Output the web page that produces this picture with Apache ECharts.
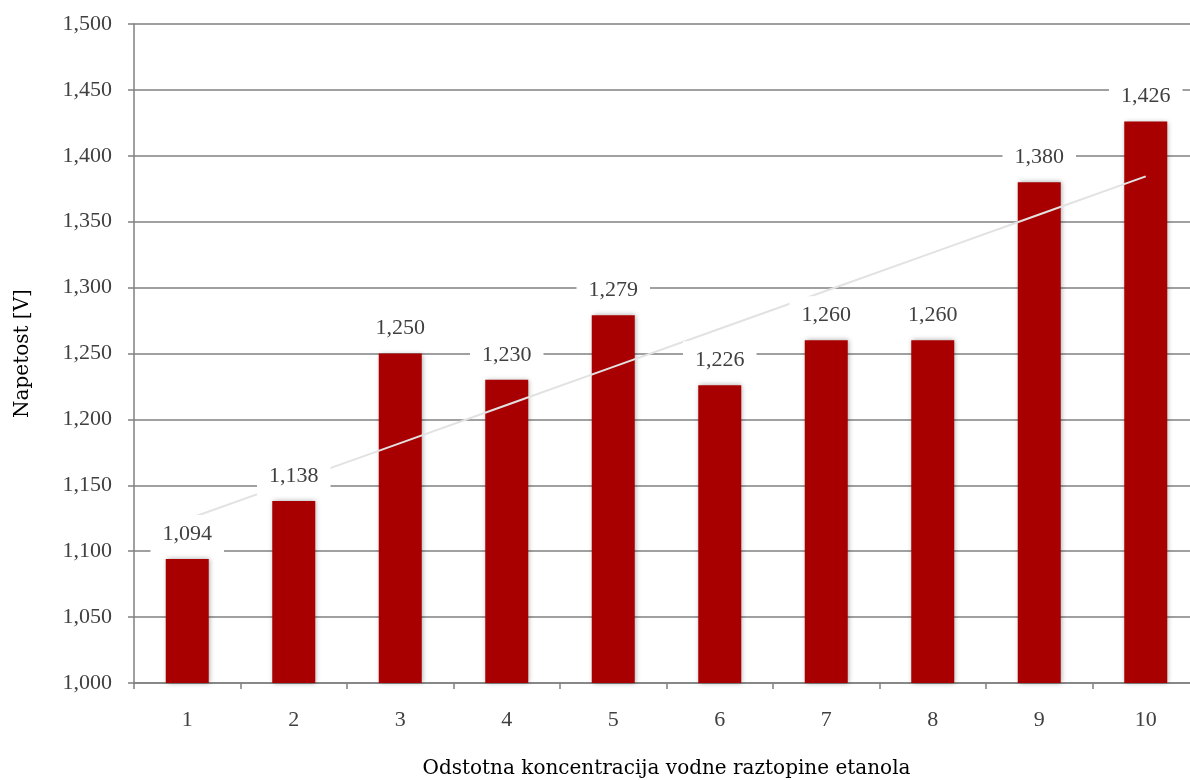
<!DOCTYPE html>
<html>
<head>
<meta charset="utf-8">
<script src="https://cdn.jsdelivr.net/npm/echarts@6/dist/echarts.min.js"></script>
<style>
  html, body { margin: 0; padding: 0; background: #fff; }
  #chart { width: 1190px; height: 780px; }
</style>
</head>
<body>
<div id="chart"></div>
<script>
// Voltage measured for each ethanol concentration step
const categories = ['1', '2', '3', '4', '5', '6', '7', '8', '9', '10'];
const voltages = [1.094, 1.138, 1.250, 1.230, 1.279, 1.226, 1.260, 1.260, 1.380, 1.426];
const yMin = 1.0;
const yMax = 1.5;
const yStep = 0.05;

// Least-squares linear trend through the measurements
function linearTrend(values) {
  const n = values.length;
  const xs = values.map((_, i) => i + 1);
  const mx = xs.reduce((a, b) => a + b, 0) / n;
  const my = values.reduce((a, b) => a + b, 0) / n;
  let sxy = 0, sxx = 0;
  xs.forEach((x, i) => { sxy += (x - mx) * (values[i] - my); sxx += (x - mx) * (x - mx); });
  const k = sxy / sxx;
  return xs.map(x => my + k * (x - mx));
}
const trend = linearTrend(voltages);

const fmt = v => v.toFixed(3).replace('.', ',');
const font = '"Liberation Serif", "DejaVu Serif", serif';
const titleFont = '"DejaVu Serif", "Liberation Serif", serif';

const chart = echarts.init(document.getElementById('chart'));
chart.setOption({
  animation: false,
  backgroundColor: '#fff',
  textStyle: { fontFamily: font },
  grid: {
    left: 134, top: 24, width: 1065, height: 659,
    containLabel: false,
    outerBoundsMode: 'none'
  },
  xAxis: {
    type: 'category',
    data: categories,
    name: 'Odstotna koncentracija vodne raztopine etanola',
    nameLocation: 'middle',
    nameGap: 76,
    nameTextStyle: { fontFamily: titleFont, fontSize: 20, color: '#000' },
    axisLine: { lineStyle: { color: '#808080', width: 1.5 } },
    axisTick: { show: true, length: 6, lineStyle: { color: '#808080', width: 1.5 } },
    axisLabel: { fontFamily: font, fontSize: 22, color: '#404040', margin: 26 }
  },
  yAxis: {
    type: 'value',
    min: yMin,
    max: yMax,
    interval: yStep,
    name: 'Napetost [V]',
    nameLocation: 'middle',
    nameGap: 101,
    nameTextStyle: { fontFamily: titleFont, fontSize: 20, color: '#000' },
    axisLine: { show: true, lineStyle: { color: '#808080', width: 1.5 } },
    axisTick: { show: true, length: 6, lineStyle: { color: '#808080', width: 1.5 } },
    axisLabel: { fontFamily: font, fontSize: 22, color: '#404040', margin: 22, formatter: fmt },
    splitLine: { lineStyle: { color: '#808080', width: 1.5 } }
  },
  series: [
    {
      type: 'bar',
      data: voltages,
      barWidth: 43,
      barGap: '-100%',
      itemStyle: {
        color: '#a80000',
        shadowBlur: 5,
        shadowColor: 'rgba(0,0,0,0.35)',
        shadowOffsetX: 1
      },
      z: 2
    },
    {
      // trend line over the bars
      type: 'line',
      data: trend,
      symbol: 'none',
      silent: true,
      lineStyle: { color: '#e2e2e2', width: 2 },
      z: 3
    },
    {
      // value labels on top of everything, anchored to the same bars
      type: 'bar',
      data: voltages,
      barWidth: 43,
      barGap: '-100%',
      silent: true,
      itemStyle: { color: 'rgba(0,0,0,0)' },
      label: {
        show: true,
        position: 'top',
        distance: 6,
        formatter: p => fmt(p.value),
        fontFamily: font,
        fontSize: 22,
        color: '#404040',
        backgroundColor: '#fff',
        padding: [8, 12, 8, 12]
      },
      z: 4
    }
  ]
});
</script>
</body>
</html>
